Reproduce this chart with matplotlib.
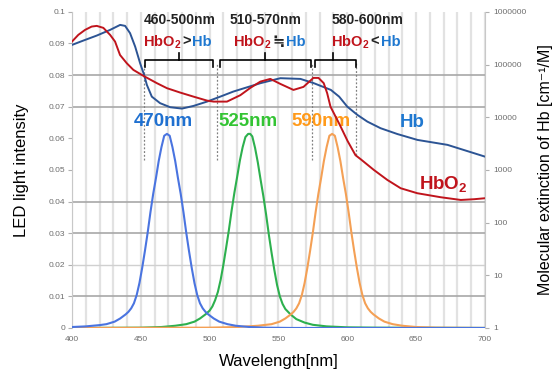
import matplotlib
matplotlib.use('Agg')
import matplotlib.pyplot as plt
from matplotlib.offsetbox import TextArea, HPacker, AnnotationBbox

plt.rcParams['font.family'] = ['Liberation Sans', 'Noto Sans CJK JP', 'DejaVu Sans']
plt.rcParams['mathtext.fontset'] = 'custom'
plt.rcParams['mathtext.rm'] = 'Liberation Sans:bold'
plt.rcParams['mathtext.bf'] = 'Liberation Sans:bold'

# Molar extinction of hemoglobin, right log axis
hb_wl = [400, 408.2, 418, 427.7, 435, 438.6, 442.2, 445.9, 449.5, 452.4, 454.4, 458,
         464, 471.3, 479.9, 488.3, 498.1, 507.7, 517.2, 536.9, 551.4, 566, 575.7,
         588.1, 594.1, 600, 607.3, 614.6, 624.2, 636.4, 651, 672.8, 700]
hb_ext = [236000, 285000, 355000, 455000, 566000, 542000, 394000, 219000, 106000,
          63700, 41100, 24600, 18500, 15500, 14600, 16400, 19800, 24600, 30700,
          44300, 55100, 53400, 44300, 33000, 24600, 15900, 11100, 8260, 6190, 4800,
          3710, 2990, 1790]

hbo2_wl = [400, 404.6, 409.5, 414.3, 418, 422.8, 427.7, 431.3, 434.9, 439.8, 444.6,
           451.9, 461.7, 469, 478.6, 488.3, 498.1, 502.9, 512.6, 522.3, 529.6, 536.9,
           544.1, 551.4, 560.9, 568.2, 575.4, 579.1, 582.9, 585.4, 587.8, 594.6,
           600.2, 606, 609.7, 619.3, 629.1, 638.8, 650.9, 667.9, 682.5, 692.2, 700]
hbo2_ext = [273000, 366000, 455000, 526000, 542000, 497000, 366000, 273000, 152000,
            106000, 79200, 61000, 44300, 35600, 29400, 24600, 20700, 19800, 19800,
            26200, 36100, 47500, 53400, 42900, 33000, 37700, 55800, 55800, 44300,
            28600, 15900, 7150, 3550, 1900, 1600, 1000, 646, 449, 361, 303, 269, 278,
            290]

# LED spectra (left axis)
led470_wl = [400, 410, 420, 425, 431, 435, 439, 441, 443, 445, 447, 449, 451, 453,
             455, 457, 459, 461, 463, 465, 467, 469, 471, 473, 475, 477, 479, 481,
             483, 485, 487, 489, 491, 493, 495, 497, 499, 503, 507, 513, 519, 529,
             540, 560, 700]
led470 = [0.0003, 0.0005, 0.0009, 0.0012, 0.002, 0.003, 0.0043, 0.0051, 0.0062,
          0.0078, 0.0104, 0.0142, 0.019, 0.0244, 0.0302, 0.0366, 0.0424, 0.0474,
          0.0528, 0.0572, 0.0608, 0.0614, 0.0608, 0.0572, 0.0528, 0.0474, 0.0424,
          0.0366, 0.0302, 0.0244, 0.019, 0.0142, 0.0104, 0.0078, 0.0062, 0.0051,
          0.0043, 0.003, 0.002, 0.0012, 0.0007, 0.0003, 0.0001, 0, 0]

led525_wl = [400, 450, 465, 475, 483, 489, 493, 497, 500, 502, 504, 506, 508, 510,
             512, 514, 516, 518, 520, 522, 524, 526, 528, 529.5, 531, 533, 535, 537,
             539, 541, 543, 545, 547, 549, 551, 553, 555, 559, 563, 569, 575, 585,
             600, 620, 700]
led525 = [0, 0.0001, 0.0003, 0.0007, 0.0012, 0.002, 0.003, 0.0043, 0.0055, 0.0068,
          0.0088, 0.0114, 0.0152, 0.02, 0.0254, 0.031, 0.0372, 0.0428, 0.0478,
          0.053, 0.0572, 0.0604, 0.0614, 0.0614, 0.0606, 0.057, 0.0524, 0.047,
          0.0418, 0.036, 0.0296, 0.0238, 0.0184, 0.0136, 0.01, 0.0076, 0.006, 0.0042,
          0.0028, 0.0017, 0.001, 0.0005, 0.0002, 0.0001, 0]

led590_wl = [400, 500, 520, 535, 545, 551, 555, 559, 561, 563, 565, 567, 569, 571,
             573, 575, 577, 579, 581, 583, 585, 587, 589, 591, 593, 595, 597, 599,
             601, 603, 605, 607, 609, 611, 613, 615, 617, 619, 623, 627, 633, 640,
             650, 665, 700]
led590 = [0, 0.0001, 0.0003, 0.0007, 0.0012, 0.002, 0.003, 0.0043, 0.0051, 0.0062,
          0.0078, 0.0104, 0.0142, 0.019, 0.0244, 0.0302, 0.0366, 0.0424, 0.0474,
          0.0528, 0.0572, 0.0608, 0.0614, 0.0608, 0.0572, 0.0528, 0.0474, 0.0424,
          0.0366, 0.0302, 0.0244, 0.019, 0.0142, 0.0104, 0.0078, 0.0062, 0.0051,
          0.0043, 0.003, 0.002, 0.0012, 0.0007, 0.0003, 0.0001, 0]

left_ticks = [0, 0.01, 0.02, 0.03, 0.04, 0.05, 0.06, 0.07, 0.08, 0.09, 0.1]
left_labels = ['0', '0.01', '0.02', '0.03', '0.04', '0.05', '0.06', '0.07', '0.08', '0.09', '0.1']
right_ticks = [1, 10, 100, 1000, 10000, 100000, 1000000]
right_labels = ['1', '10', '100', '1000', '10000', '100000', '1000000']
x_ticks = [400, 450, 500, 550, 600, 650, 700]

RED = '#c0141c'
BLUE_TXT = '#1f78d0'
GRAY_T = '#6e6e6e'

fig = plt.figure(figsize=(5.58, 3.71), dpi=100)
ax = fig.add_axes([0.129, 0.116, 0.74, 0.852])
ax.set_xlim(400, 700)
ax.set_ylim(0, 0.1)

# grid
for w in range(400, 701, 10):
    ax.axvline(w, color='#e2e2e2', lw=1.6, zorder=0)
for g in [0.01, 0.03, 0.04, 0.07, 0.08]:
    ax.axhline(g, color='#a8a8a8', lw=1.2, zorder=0.5)
ax.axhline(0.02, color='#d0d0d0', lw=1.0, zorder=0.5)

ax.plot(led470_wl, led470, color='#4a74e0', lw=1.5, zorder=3)
ax.plot(led525_wl, led525, color='#2db04e', lw=1.5, zorder=2)
ax.plot(led590_wl, led590, color='#f4a055', lw=1.5, zorder=2)

for s in ['top', 'right', 'bottom']:
    ax.spines[s].set_visible(False)
ax.spines['left'].set_color('#c8c8c8')
ax.set_yticks(left_ticks)
ax.set_yticklabels(left_labels)
ax.set_xticks(x_ticks)
ax.tick_params(axis='y', length=3, color='#b0b0b0', labelsize=6, labelcolor=GRAY_T, pad=2)
ax.tick_params(axis='x', length=0, labelsize=6, labelcolor=GRAY_T, pad=6)
ax.set_xlabel('Wavelength[nm]', fontsize=12, labelpad=8)
ax.set_ylabel('LED light intensity', fontsize=12, labelpad=14)

ax2 = ax.twinx()
ax2.set_yscale('log')
ax2.set_ylim(1, 1e6)
ax2.plot(hb_wl, hb_ext, color='#2c5494', lw=1.4)
ax2.plot(hbo2_wl, hbo2_ext, color=RED, lw=1.4)
for s in ['top', 'left', 'bottom']:
    ax2.spines[s].set_visible(False)
ax2.spines['right'].set_color('#c8c8c8')
ax2.set_yticks(right_ticks)
ax2.set_yticklabels(right_labels)
ax2.minorticks_off()
ax2.tick_params(axis='y', length=3, color='#b0b0b0', labelsize=6, labelcolor=GRAY_T, pad=3)
ax2.set_ylabel('Molecular extinction of Hb [cm⁻¹/M]', fontsize=11.5, labelpad=8)

# dotted guide lines
for xv, ylo in [(452.4, 0.0532), (505.3, 0.0532), (574.7, 0.0532), (606, 0.0547)]:
    ax.plot([xv, xv], [ylo, 0.0839], color='#808080', lw=0.9, ls=(0, (1.5, 1.5)), zorder=4)

# braces
for x0, x1, xc in [(453.1, 502.6, 477.9), (507.7, 573.3, 540.5), (576.9, 606, 590)]:
    ax.plot([x0, x0, x1, x1], [0.0826, 0.0848, 0.0848, 0.0826], color='black', lw=1.2, zorder=5)
    ax.plot([xc, xc], [0.0848, 0.087], color='black', lw=1.2, zorder=5)

for xc, txt in [(478.6, '460-500nm'), (540.5, '510-570nm'), (614.8, '580-600nm')]:
    ax.text(xc, 0.0975, txt, ha='center', va='center', fontsize=10, fontweight='bold', color='#222222')

for xc, sym in [(476.4, '>'), (543.4, '≒'), (613.3, '<')]:
    parts = [TextArea('HbO$_2$', textprops=dict(color=RED, fontsize=10.5, fontweight='bold')),
             TextArea(sym, textprops=dict(color='#222222', fontsize=10.5, fontweight='bold')),
             TextArea('Hb', textprops=dict(color=BLUE_TXT, fontsize=10.5, fontweight='bold'))]
    box = HPacker(children=parts, align='baseline', pad=0, sep=1)
    ab = AnnotationBbox(box, (xc, 0.0905), xycoords='data', frameon=False, box_alignment=(0.5, 0.5))
    ax.add_artist(ab)

ax.text(466.2, 0.0652, '470nm', ha='center', va='center', fontsize=13.5, fontweight='bold', color='#1f70d0', zorder=6)
ax.text(528.1, 0.0652, '525nm', ha='center', va='center', fontsize=13.5, fontweight='bold', color='#33c433', zorder=6)
ax.text(581.3, 0.0652, '590nm', ha='center', va='center', fontsize=13.5, fontweight='bold', color='#ff9a1a', zorder=6)
ax.text(647.5, 0.0649, 'Hb', ha='center', va='center', fontsize=13.5, fontweight='bold', color=BLUE_TXT, zorder=6)
ax.text(670, 0.0453, 'HbO$_2$', ha='center', va='center', fontsize=13.5, fontweight='bold', color=RED, zorder=6)

fig.savefig('out.png', dpi=100)
